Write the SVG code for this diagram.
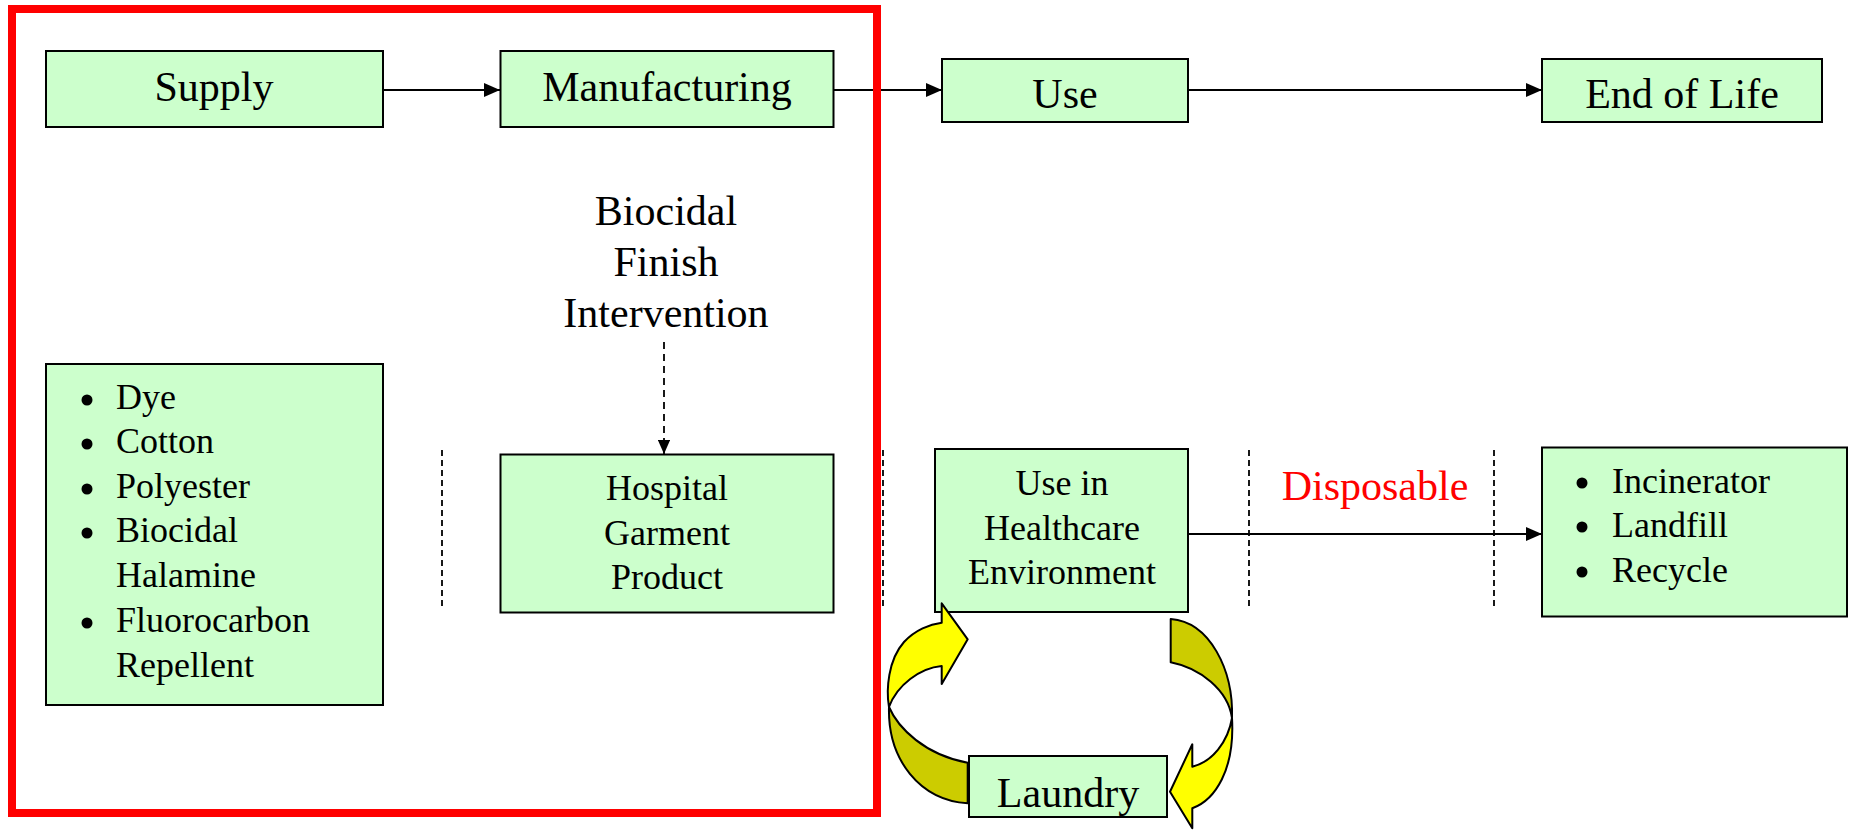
<svg xmlns="http://www.w3.org/2000/svg" width="1851" height="830" viewBox="0 0 1851 830">
<style>
.box{fill:#CCFFCC;stroke:#000;stroke-width:2}
.t{font-family:"Liberation Serif","Times New Roman",serif;fill:#000}
.t42{font-size:42px}
.t36{font-size:36px}
.c{text-anchor:middle}
.red{fill:#FF0000}
.conn{stroke:#000;stroke-width:2;fill:none}
.dash{stroke:#000;stroke-width:1.8;stroke-dasharray:7 5;fill:none}
.sep{stroke:#000;stroke-width:1.8;stroke-dasharray:6 4;fill:none}
.fr{fill:#FFFF00;stroke:#000;stroke-width:2;stroke-linejoin:round}
.bk{fill:#CCCC00;stroke:#000;stroke-width:2;stroke-linejoin:round}
.frame{fill:none;stroke:#FF0000;stroke-width:8}
.bul{fill:#000}
</style>
<defs>
<marker id="ah" markerWidth="8" markerHeight="7" refX="8" refY="3.5" orient="auto" markerUnits="strokeWidth"><path d="M0,0 L8,3.5 L0,7 z" fill="#000"/></marker>
</defs>
<rect width="1851" height="830" fill="#FFFFFF"/>

<g id="separators">
<line class="sep" x1="442" y1="450" x2="442" y2="610"/>
<line class="sep" x1="883" y1="450" x2="883" y2="610"/>
<line class="sep" x1="1249" y1="450" x2="1249" y2="610"/>
<line class="sep" x1="1494" y1="450" x2="1494" y2="610"/>
</g>

<g id="connectors">
<line class="conn" x1="383" y1="90" x2="500" y2="90" marker-end="url(#ah)"/>
<line class="conn" x1="834" y1="90" x2="942" y2="90" marker-end="url(#ah)"/>
<line class="conn" x1="1188" y1="90" x2="1542" y2="90" marker-end="url(#ah)"/>
<line class="conn" x1="1188" y1="534" x2="1542" y2="534" marker-end="url(#ah)"/>
<line class="dash" x1="664" y1="342" x2="664" y2="454" marker-end="url(#ah)"/>
</g>

<g id="supply">
<rect class="box" x="46" y="51" width="337" height="76"/>
<text class="t t42 c" x="214" y="101">Supply</text>
</g>
<g id="manufacturing">
<rect class="box" x="500.5" y="51" width="333" height="76"/>
<text class="t t42 c" x="667" y="101">Manufacturing</text>
</g>
<g id="use">
<rect class="box" x="942" y="59" width="246" height="63"/>
<text class="t t42 c" x="1065" y="108">Use</text>
</g>
<g id="end-of-life">
<rect class="box" x="1542" y="59" width="280" height="63"/>
<text class="t t42 c" x="1682" y="108">End of Life</text>
</g>

<g id="materials">
<rect class="box" x="46" y="364" width="337" height="341"/>
<circle class="bul" cx="87" cy="400" r="5.5"/>
<circle class="bul" cx="87" cy="444" r="5.5"/>
<circle class="bul" cx="87" cy="489" r="5.5"/>
<circle class="bul" cx="87" cy="533" r="5.5"/>
<circle class="bul" cx="87" cy="623" r="5.5"/>
<text class="t t36" x="116" y="409">Dye</text>
<text class="t t36" x="116" y="453">Cotton</text>
<text class="t t36" x="116" y="498">Polyester</text>
<text class="t t36" x="116" y="542">Biocidal</text>
<text class="t t36" x="116" y="587">Halamine</text>
<text class="t t36" x="116" y="632">Fluorocarbon</text>
<text class="t t36" x="116" y="677">Repellent</text>
</g>

<g id="biocidal-finish">
<text class="t t42 c" x="666" y="225">Biocidal</text>
<text class="t t42 c" x="666" y="276">Finish</text>
<text class="t t42 c" x="666" y="327">Intervention</text>
</g>

<g id="hospital-garment">
<rect class="box" x="500.5" y="454.5" width="333" height="158"/>
<text class="t t36 c" x="667" y="500">Hospital</text>
<text class="t t36 c" x="667" y="545">Garment</text>
<text class="t t36 c" x="667" y="589">Product</text>
</g>

<g id="use-healthcare">
<rect class="box" x="935" y="449" width="253" height="163"/>
<text class="t t36 c" x="1062" y="495">Use in</text>
<text class="t t36 c" x="1062" y="540">Healthcare</text>
<text class="t t36 c" x="1062" y="584">Environment</text>
</g>

<g id="disposable">
<text class="t t42 c red" x="1375" y="500">Disposable</text>
</g>

<g id="disposal">
<rect class="box" x="1542" y="447.5" width="305" height="169"/>
<circle class="bul" cx="1582" cy="483" r="5.5"/>
<circle class="bul" cx="1582" cy="527" r="5.5"/>
<circle class="bul" cx="1582" cy="572" r="5.5"/>
<text class="t t36" x="1612" y="493">Incinerator</text>
<text class="t t36" x="1612" y="537">Landfill</text>
<text class="t t36" x="1612" y="582">Recycle</text>
</g>

<g id="laundry">
<rect class="box" x="969" y="756" width="198" height="61"/>
<text class="t t42 c" x="1068" y="807">Laundry</text>
</g>

<g id="cycle-arrows">
<path class="bk" d="M889,707 C887.5,760 920,800 967.7,803.3 L967.7,762.7 C925,755 898,728 889,707 Z"/>
<path class="fr" d="M889,707 C886,690 888,660 904,642 C915,630 930,624 941.7,622.7 L941.7,603.3 L967.7,639.3 L941.7,684 L941.7,666 C920,668 897,685 889,707 Z"/>
<path class="bk" d="M1170.7,619 C1210,622 1233.5,670 1232,718 C1228,690 1200,668 1170.7,662.3 Z"/>
<path class="fr" d="M1232,718 C1235,770 1215,800 1192.3,808.3 L1192.3,828.3 L1170,791.7 L1192.3,744.3 L1192.3,766.7 C1212,762 1228,742 1232,718 Z"/>
</g>

<g id="frame">
<rect class="frame" x="12" y="9" width="865" height="804"/>
</g>
</svg>
